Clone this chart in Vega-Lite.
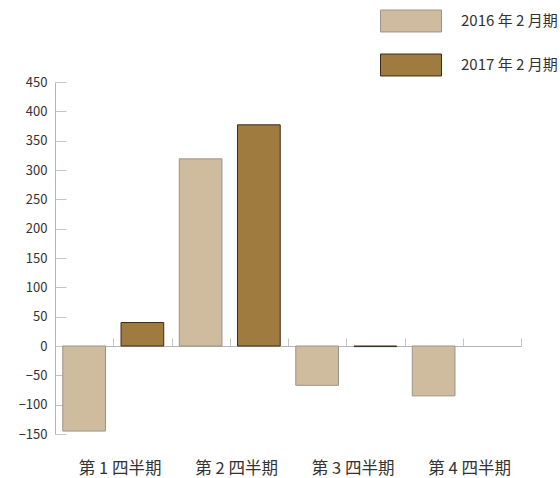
{
  "$schema": "https://vega.github.io/schema/vega-lite/v6.json",
  "width": 466,
  "height": 352,
  "autosize": {"type": "none"},
  "padding": {"left": 55, "top": 82, "right": 39, "bottom": 44},
  "background": "white",
  "config": {
    "view": {"stroke": null},
    "font": "Noto Sans CJK JP",
    "axis": {"labelFont": "Noto Sans CJK JP", "labelColor": "#333333"}
  },
  "data": {
    "values": [
      {"slot": "第 1 四半期|a", "year": "2016 年 2 月期", "value": -145},
      {"slot": "第 1 四半期|b", "year": "2017 年 2 月期", "value": 40},
      {"slot": "第 2 四半期|a", "year": "2016 年 2 月期", "value": 319},
      {"slot": "第 2 四半期|b", "year": "2017 年 2 月期", "value": 377},
      {"slot": "第 3 四半期|a", "year": "2016 年 2 月期", "value": -67},
      {"slot": "第 3 四半期|b", "year": "2017 年 2 月期", "value": -1},
      {"slot": "第 4 四半期|a", "year": "2016 年 2 月期", "value": -85},
      {"slot": "第 4 四半期|b", "year": "2017 年 2 月期", "value": null}
    ]
  },
  "layer": [
    {
      "mark": {"type": "bar", "strokeWidth": 1},
      "encoding": {
        "x": {
          "field": "slot",
          "type": "nominal",
          "sort": null,
          "scale": {
            "domain": ["第 1 四半期|a", "第 1 四半期|b", "第 2 四半期|a", "第 2 四半期|b", "第 3 四半期|a", "第 3 四半期|b", "第 4 四半期|a", "第 4 四半期|b"],
            "paddingInner": 0.267,
            "paddingOuter": 0.1335
          },
          "axis": {
            "orient": "bottom",
            "title": null,
            "domain": false,
            "ticks": false,
            "labelAngle": 0,
            "labelFontSize": 16.5,
            "labelPadding": 26,
            "labelAlign": "center",
            "labelOffset": 36,
            "labelExpr": "split(datum.value, '|')[1] == 'a' ? split(datum.value, '|')[0] : ''"
          }
        },
        "y": {
          "field": "value",
          "type": "quantitative",
          "scale": {"domain": [-150, 450], "nice": false, "zero": false},
          "axis": {
            "title": null,
            "values": [-150, -100, -50, 0, 50, 100, 150, 200, 250, 300, 350, 400, 450],
            "grid": false,
            "domainColor": "#b5b5b5",
            "tickColor": "#c4c4c4",
            "tickSize": -11,
            "labelPadding": 19,
            "labelFontSize": 13
          }
        },
        "fill": {
          "field": "year",
          "type": "nominal",
          "scale": {"range": ["#cfbc9e", "#a07b40"]},
          "legend": {
            "orient": "none",
            "legendX": 325,
            "legendY": -92,
            "title": null,
            "padding": 0,
            "symbolType": "M-1,-0.36H1V0.36H-1Z",
            "symbolSize": 3721,
            "symbolStrokeWidth": 1,
            "labelFontSize": 15,
            "labelColor": "#333333",
            "labelOffset": 19,
            "rowPadding": -13
          }
        },
        "stroke": {
          "field": "year",
          "type": "nominal",
          "scale": {"range": ["#9a938a", "#3a2b1c"]},
          "legend": null
        }
      }
    },
    {
      "mark": {"type": "rule", "stroke": "#ffffff", "strokeOpacity": 0},
      "encoding": {
        "x": {
          "field": "slot",
          "type": "nominal",
          "sort": null,
          "scale": {
            "domain": ["第 1 四半期|a", "第 1 四半期|b", "第 2 四半期|a", "第 2 四半期|b", "第 3 四半期|a", "第 3 四半期|b", "第 4 四半期|a", "第 4 四半期|b"],
            "paddingInner": 0,
            "paddingOuter": 0
          },
          "axis": {
            "orient": "top",
            "offset": -264,
            "title": null,
            "labels": false,
            "ticks": true,
            "tickBand": "extent",
            "domainColor": "#b5b5b5",
            "tickColor": "#c4c4c4",
            "tickWidth": 1,
            "tickSize": 8
          }
        }
      }
    }
  ],
  "resolve": {"scale": {"x": "independent"}, "axis": {"x": "independent"}}
}
